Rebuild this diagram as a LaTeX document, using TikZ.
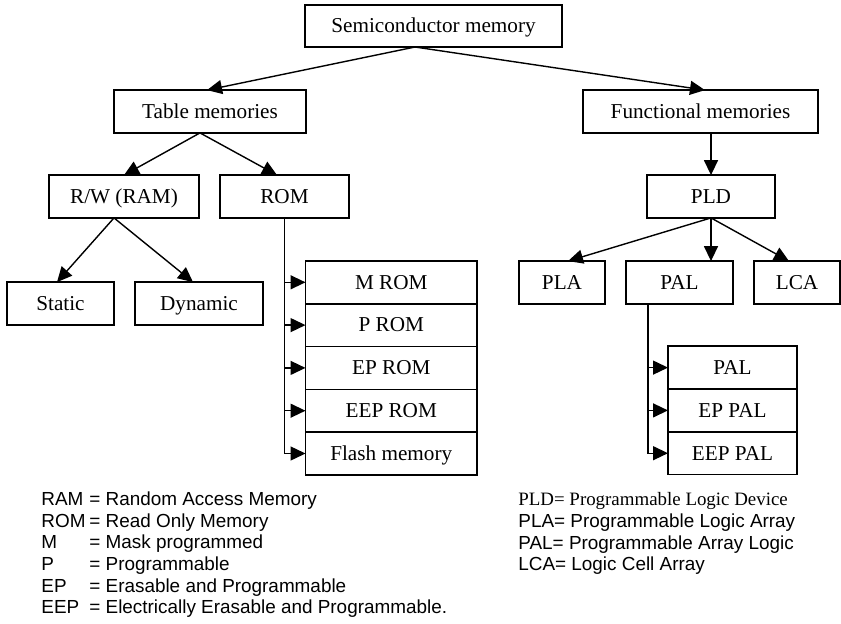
\documentclass[tikz,border=0pt]{standalone}
\usepackage{fontspec}
\setmainfont{Liberation Serif}
\setsansfont{Liberation Sans}
\usetikzlibrary{arrows.meta,positioning}

\begin{document}
\begin{tikzpicture}[x=0.5pt, y=-0.5pt,
  box/.style={draw, line width=0.8pt, rectangle, minimum height=21.4pt, inner sep=0pt, outer sep=0pt, text height=8.8pt, text depth=2pt, font=\fontsize{10.6}{12}\selectfont},
  link/.style={line width=0.7pt, -{Triangle[length=7.5pt, width=7pt]}},
  legend/.style={anchor=west, inner sep=0pt, text height=6.8pt, text depth=2pt, font=\sffamily\fontsize{9.45}{11}\selectfont}]
  \useasboundingbox (0,0) rectangle (841,623);

  % top levels
  \node[box, minimum width=128.5pt, minimum height=21pt] (semi) at (433.5,26) {Semiconductor memory};
  \node[box, minimum width=96pt] (table) at (210,111.5) {Table memories};
  \node[box, minimum width=117.5pt] (func) at (700.5,111.5) {Functional memories};

  % table memories
  \node[box, minimum width=75pt] (rw) at (124,196.5) {R/W (RAM)};
  \node[box, minimum width=64.5pt] (rom) at (284.5,196.5) {ROM};
  \node[box, minimum width=53.5pt] (static) at (60.5,303.5) {Static};
  \node[box, minimum width=64pt] (dynamic) at (199,303.5) {Dynamic};

  % ROM stack
  \node[box, minimum width=85.75pt] (mrom) at (391.25,282.3) {M ROM};
  \node[box, minimum width=85.75pt, below=0pt of mrom] (prom) {P ROM};
  \node[box, minimum width=85.75pt, below=0pt of prom] (eprom) {EP ROM};
  \node[box, minimum width=85.75pt, below=0pt of eprom] (eeprom) {EEP ROM};
  \node[box, minimum width=85.75pt, below=0pt of eeprom] (flash) {Flash memory};

  % functional memories
  \node[box, minimum width=64pt] (pld) at (711,196.5) {PLD};
  \node[box, minimum width=43pt] (pla) at (562,282.5) {PLA};
  \node[box, minimum width=53.5pt] (pal) at (679.5,282.5) {PAL};
  \node[box, minimum width=43pt] (lca) at (797,282.5) {LCA};

  % PAL stack
  \node[box, minimum width=64.5pt] (palone) at (732.5,367.6) {PAL};
  \node[box, minimum width=64.5pt, below=0pt of palone] (eppal) {EP PAL};
  \node[box, minimum width=64.5pt, below=0pt of eppal] (eeppal) {EEP PAL};

  % tree links
  \coordinate (semifoot) at ([xshift=-9.25pt]semi.south);
  \draw[link] (semifoot) -- ([xshift=-1.5pt]table.north);
  \draw[link] (semifoot) -- ([xshift=2.25pt]func.north);
  \draw[link] ([xshift=-5pt]table.south) -- (rw.north);
  \draw[link] ([xshift=-5pt]table.south) -- ([xshift=-3.75pt]rom.north);
  \draw[link] ([xshift=-5pt]rw.south) -- ([xshift=-1.75pt]static.north);
  \draw[link] ([xshift=-5pt]rw.south) -- ([xshift=-3pt]dynamic.north);
  \draw[link] (pld.north |- func.south) -- (pld.north);
  \draw[link] (pld.south) -- ([xshift=3pt]pla.north);
  \draw[link] (pld.south) -- (pld.south |- pal.north);
  \draw[link] (pld.south) -- ([xshift=-4pt]lca.north);

  % ROM bus
  \draw[link] (rom.south) |- (flash.west);
  \foreach \row in {mrom,prom,eprom,eeprom}
    \draw[link] (rom.south |- \row.west) -- (\row.west);

  % PAL bus
  \coordinate (palbus) at ([xshift=-15.75pt]pal.south);
  \draw[link] (palbus) |- (eeppal.west);
  \foreach \row in {palone,eppal}
    \draw[link] (palbus |- \row.west) -- (\row.west);

  % legend left
  \foreach \ab/\txt [count=\i] in {RAM/Random Access Memory, ROM/Read Only Memory, M/Mask programmed, P/Programmable, EP/Erasable and Programmable, EEP/Electrically Erasable and Programmable.} {
    \node[legend] (abbr\i) at (41,{479+21.65*\i}) {\ab};
    \node[legend] (mean\i) at (89,{479+21.65*\i}) {= \txt};
  }

  % legend right
  \node[legend, font=\fontsize{9.45}{11}\selectfont] (pldkey) at (518,501) {PLD= Programmable Logic Device};
  \node[legend] (plakey) at (518,522.7) {PLA= Programmable Logic Array};
  \node[legend] (palkey) at (518,544.3) {PAL= Programmable Array Logic};
  \node[legend] (lcakey) at (518,565.9) {LCA= Logic Cell Array};
\end{tikzpicture}
\end{document}
